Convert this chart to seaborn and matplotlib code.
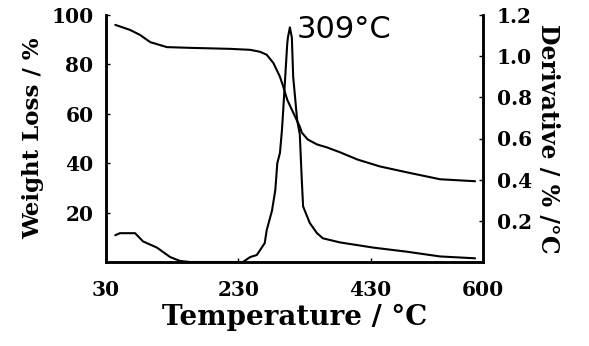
import numpy as np
import pandas as pd
import matplotlib
matplotlib.use("Agg")
import matplotlib.pyplot as plt
import seaborn as sns

# Weight loss (TGA) curve
tga_temp = [44, 66, 81, 97, 122, 157, 217, 248, 263, 273, 283, 293, 298, 304, 313,
            323, 326, 335, 349, 364, 384, 410, 444, 485, 535, 588]
tga_weight = [96, 94, 92, 89, 87, 86.7, 86.3, 85.9, 85.1, 83.9, 80.6, 75, 71, 65.7, 60.5,
              54.8, 52.4, 49.6, 47.6, 46.4, 44.4, 41.5, 38.7, 36.3, 33.5, 32.7]

# Derivative (DTG) curve
dtg_temp = [44, 51, 74, 86, 107, 127, 142, 157, 237, 248, 258, 263, 270, 273, 281, 286,
            289, 293, 296, 298, 301, 304, 305, 308, 311, 313, 319, 323, 326, 328, 338,
            349, 358, 384, 434, 485, 535, 588]
dtg_value = [0.13, 0.14, 0.14, 0.10, 0.07, 0.024, 0.005, 0.0, 0.0, 0.024, 0.034, 0.058,
             0.092, 0.155, 0.25, 0.35, 0.48, 0.53, 0.64, 0.74, 0.90, 1.06, 1.09, 1.14,
             1.09, 0.90, 0.69, 0.62, 0.40, 0.27, 0.19, 0.14, 0.115, 0.095, 0.07, 0.05,
             0.027, 0.018]

x_ticks = [30, 230, 430, 600]
left_ticks = [20, 40, 60, 80, 100]
right_ticks = [0.2, 0.4, 0.6, 0.8, 1.0, 1.2]
peak_label = "309\u00b0C"

sns.set_style("ticks")
plt.rcParams['font.family'] = ['DejaVu Serif', 'DejaVu Sans']
plt.rcParams['text.color'] = 'black'
plt.rcParams['axes.labelcolor'] = 'black'
plt.rcParams['xtick.color'] = 'black'
plt.rcParams['ytick.color'] = 'black'

fig = plt.figure(figsize=(5.89, 3.46), dpi=100)
ax = fig.add_axes([106/589, 1-262/346, (483-106)/589, (262-15)/346])
ax2 = ax.twinx()

df_tga = pd.DataFrame({"T": tga_temp, "W": tga_weight})
df_dtg = pd.DataFrame({"T": dtg_temp, "D": dtg_value})

sns.lineplot(data=df_tga, x="T", y="W", ax=ax, color="black", lw=1.5, sort=False)
sns.lineplot(data=df_dtg, x="T", y="D", ax=ax2, color="black", lw=1.5, sort=False)

ax.set_xlim(30, 600)
ax.set_ylim(0, 100)
ax2.set_ylim(0, 1.2)

ax.set_xticks(x_ticks)
ax.set_xticklabels([str(t) for t in x_ticks])
ax.set_yticks(left_ticks)
ax.set_yticklabels([str(t) for t in left_ticks])
ax2.set_yticks(right_ticks)
ax2.set_yticklabels([f"{t:.1f}" for t in right_ticks])

for a in (ax, ax2):
    a.spines['top'].set_visible(False)
    for s in a.spines.values():
        s.set_linewidth(1.8)
        s.set_color("black")

ax.tick_params(axis='x', direction='in', length=3, width=1, pad=13, labelsize=14.5)
ax.tick_params(axis='y', direction='in', length=3, width=1, pad=9, labelsize=14.5)
ax2.tick_params(axis='y', direction='in', length=3, width=1, pad=10, labelsize=14.5)
for lab in ax.get_xticklabels() + ax.get_yticklabels() + ax2.get_yticklabels():
    lab.set_fontweight('bold')

ax.set_xlabel("Temperature / \u00b0C", fontsize=20, fontweight='bold', labelpad=3)
ax.set_ylabel("Weight Loss / %", fontsize=16.5, fontweight='bold', labelpad=5)
ax2.set_ylabel("Derivative / % /\u00b0C", fontsize=17, fontweight='bold',
               rotation=270, labelpad=20)

ax2.text(318, 1.09, peak_label, fontsize=22, ha='left', va='baseline',
         family=['DejaVu Sans'], color='black')

fig.savefig("out.png", dpi=100, facecolor="white")
